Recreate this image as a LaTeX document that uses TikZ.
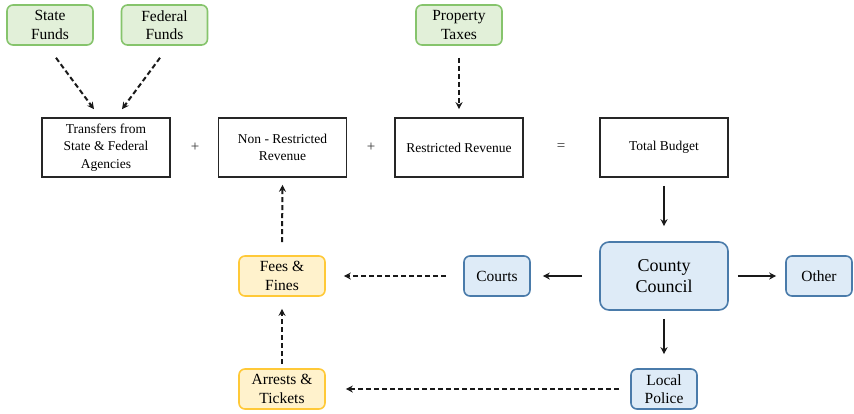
\documentclass[tikz,border=0pt]{standalone}
\usepackage{fontspec}
\setmainfont{Liberation Serif}
\usetikzlibrary{arrows.meta,calc}
\definecolor{gfill}{HTML}{E2F0D9}
\definecolor{gdraw}{HTML}{86C46C}
\definecolor{yfill}{HTML}{FFF2CC}
\definecolor{ydraw}{HTML}{FFC938}
\definecolor{bfill}{HTML}{DEEBF7}
\definecolor{bdraw}{HTML}{4A7BAA}
\tikzset{
  plainbox/.style={draw=black!85, line width=1.6pt, minimum width=128pt, minimum height=59pt, align=center, inner sep=2pt, font=\fontsize{13.5}{17.5}\selectfont},
  greenbox/.style={draw=gdraw, fill=gfill, line width=1.6pt, rounded corners=6pt, minimum width=86pt, minimum height=40pt, align=center, inner sep=1pt, font=\fontsize{15.5}{18.5}\selectfont},
  yellowbox/.style={draw=ydraw, fill=yfill, line width=1.6pt, rounded corners=6pt, minimum width=86pt, minimum height=40pt, align=center, inner sep=1pt, font=\fontsize{15.5}{18.5}\selectfont},
  bluebox/.style={draw=bdraw, fill=bfill, line width=1.6pt, rounded corners=6pt, minimum width=66pt, minimum height=40pt, align=center, inner sep=1pt, font=\fontsize{15.5}{18.5}\selectfont},
  op/.style={font=\fontsize{15}{15}\selectfont, text=black!80},
  dasharrow/.style={draw=black!90, line width=2pt, dash pattern=on 5pt off 3pt, -{Stealth[length=7pt,width=7pt]}},
  solidarrow/.style={draw=black!90, line width=2pt, -{Stealth[length=7pt,width=7pt]}},
}
\begin{document}
\begin{tikzpicture}[x=1pt,y=-1pt]
\useasboundingbox (0,0) rectangle (854,413);
\node[greenbox] (sf) at (50,25) {State\\Funds};
\node[greenbox] (ff) at (164.5,25) {Federal\\Funds};
\node[greenbox] (pt) at (459,25) {Property\\Taxes};
\node[plainbox] (tr) at (106,147.5) {Transfers from\\State \& Federal\\Agencies};
\node[plainbox] (nr) at (282.5,147.5) {Non - Restricted\\Revenue};
\node[plainbox] (rr) at (459,147.5) {Restricted Revenue};
\node[plainbox] (tb) at (664,147.5) {Total Budget};
\node[op] (p1) at (195,147.5) {+};
\node[op] (p2) at (371,147.5) {+};
\node[op] (eq) at (561,147.5) {=};
\node[bluebox, minimum width=128pt, minimum height=68pt, rounded corners=9pt, font=\fontsize{18}{21}\selectfont] (cc) at (664,276) {County\\Council};
\node[bluebox] (co) at (497,276) {Courts};
\node[bluebox] (ot) at (819,276) {Other};
\node[bluebox] (lp) at (664,389) {Local\\Police};
\node[yellowbox] (fe) at (282,276) {Fees \&\\Fines};
\node[yellowbox] (ar) at (282,389) {Arrests \&\\Tickets};
% arrows
\draw[dasharrow] ($(sf.south)+(6,12)$) -- ($(tr.north)+(-12,-8)$);
\draw[dasharrow] ($(ff.south)+(-4.5,12)$) -- ($(tr.north)+(16,-8)$);
\draw[dasharrow] ($(pt.south)+(0,12)$) -- ($(rr.north)+(0,-8)$);
\draw[dasharrow] ($(fe.north)+(0,-13)$) -- ($(nr.south)+(0,7)$);
\draw[dasharrow] ($(ar.north)+(0,-4)$) -- ($(fe.south)+(0,12)$);
\draw[solidarrow] ($(tb.south)+(0,8)$) -- ($(cc.north)+(0,-15)$);
\draw[solidarrow] ($(cc.west)+(-17,0)$) -- ($(co.east)+(12,0)$);
\draw[dasharrow] ($(co.west)+(-17,0)$) -- ($(fe.east)+(18,0)$);
\draw[solidarrow] ($(cc.east)+(9,0)$) -- ($(ot.west)+(-9,0)$);
\draw[solidarrow] ($(cc.south)+(0,8)$) -- ($(lp.north)+(0,-14)$);
\draw[dasharrow] ($(lp.west)+(-11,0)$) -- ($(ar.east)+(20,0)$);
\end{tikzpicture}
\end{document}
